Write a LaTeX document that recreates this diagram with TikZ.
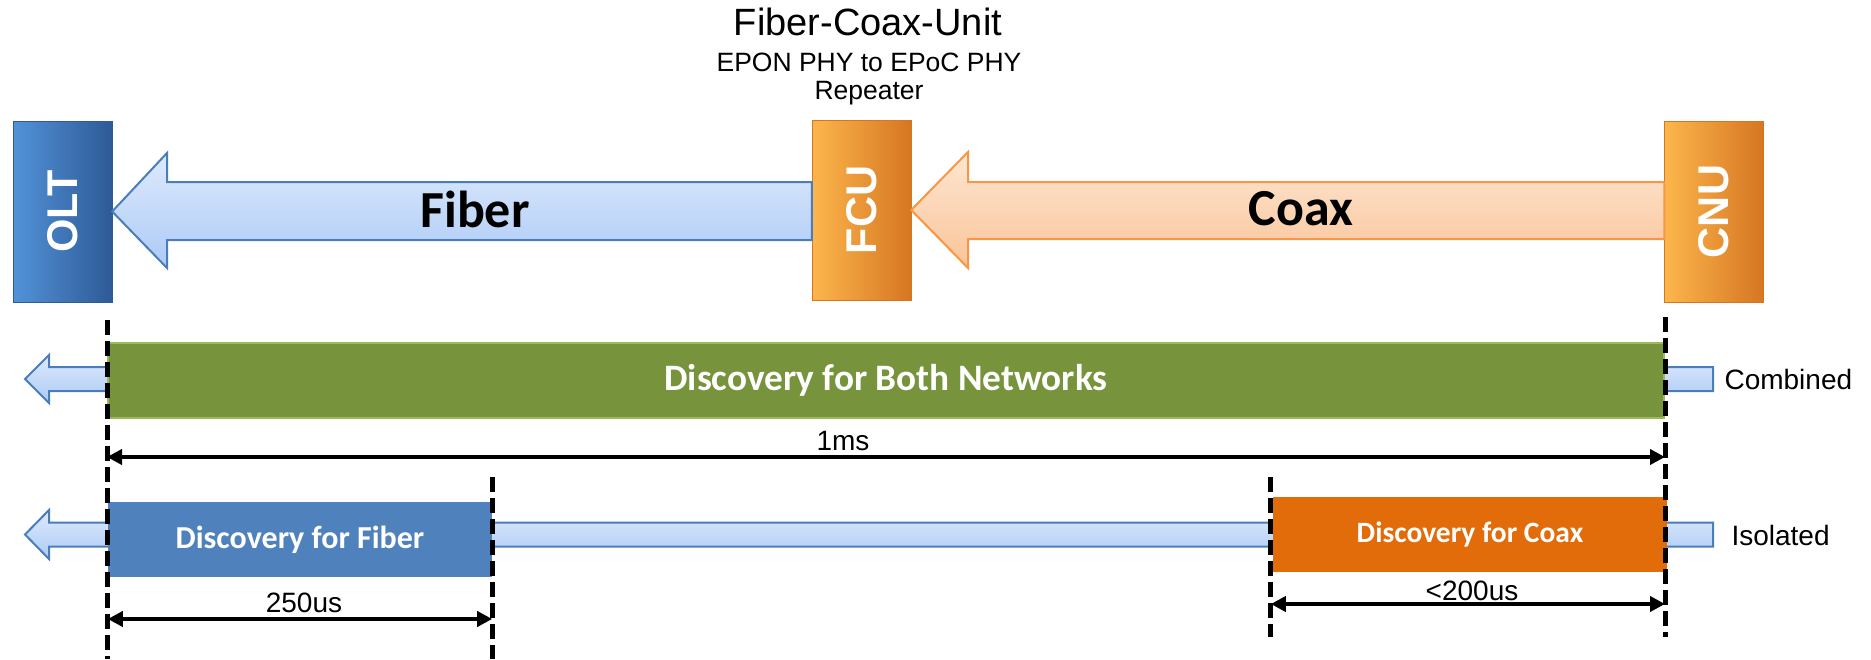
\documentclass[tikz,border=0pt]{standalone}
\usepackage{fontspec}
\setmainfont{Liberation Sans}
\newfontfamily\calibri{Carlito}
\usetikzlibrary{positioning, arrows.meta}

\definecolor{oltL}{RGB}{82,146,216}
\definecolor{oltM}{RGB}{62,126,200}
\definecolor{oltR}{RGB}{46,90,150}
\definecolor{unitL}{RGB}{252,182,76}
\definecolor{unitM}{RGB}{248,152,52}
\definecolor{unitR}{RGB}{214,118,34}
\definecolor{fibTop}{RGB}{222,234,252}
\definecolor{fibBot}{RGB}{172,202,246}
\definecolor{fibLine}{RGB}{74,126,187}
\definecolor{coxTop}{RGB}{253,230,210}
\definecolor{coxBot}{RGB}{250,196,152}
\definecolor{coxLine}{RGB}{247,150,70}
\definecolor{barGreen}{RGB}{119,147,60}
\definecolor{barGreenLine}{RGB}{155,187,89}
\definecolor{barBlue}{RGB}{79,129,189}
\definecolor{barOrange}{RGB}{227,108,10}

\begin{document}
\begin{tikzpicture}[x=1pt, y=-1pt,
    unit/.style={rectangle, inner sep=0pt, minimum width=99pt, minimum height=181pt,
                 text=white, font=\fontsize{43}{43}\selectfont\bfseries},
    oltbox/.style={unit, left color=oltL, middle color=oltM, right color=oltR, draw=oltR},
    unitbox/.style={unit, left color=unitL, middle color=unitM, right color=unitR, draw=unitR},
    fiberarrow/.style={draw=fibLine, line width=2pt, top color=fibTop, bottom color=fibBot},
    coaxarrow/.style={draw=coxLine, line width=2pt, top color=coxTop, bottom color=coxBot},
    bar/.style={rectangle, inner sep=0pt, minimum height=75pt, text=white,
                font=\calibri\bfseries},
    guide/.style={line width=5pt, dash pattern=on 15pt off 6pt},
    dim/.style={{Triangle[length=15pt, width=15pt]}-{Triangle[length=15pt, width=15pt]}, line width=4pt},
    label/.style={font=\fontsize{28}{28}\selectfont}
]
    \useasboundingbox (0,0) rectangle (1871,659);

    % Units
    \node[oltbox] (olt) at (62.5,211.5) {\rotatebox{90}{OLT}};
    \node[unitbox, minimum height=180pt] (fcu) at (861.5,210) {\rotatebox{90}{FCU}};
    \node[unitbox] (cnu) at (1714,211.5) {\rotatebox{90}{CNU}};

    % FCU caption
    \node[font=\fontsize{38}{38}\selectfont] (fcuname) at (868,22) {Fiber-Coax-Unit};
    \node[font=\fontsize{26.5}{26.5}\selectfont] (fcudesc) at (869,62) {EPON PHY to EPoC PHY};
    \node[font=\fontsize{26.5}{26.5}\selectfont] (fcurep) at (869,93) {Repeater};

    % Upstream arrows
    \filldraw[fiberarrow] (fcu.west |- 0,182) -- (167,182) -- (167,153) -- (olt.east)
        -- (167,268) -- (167,240) -- (fcu.west |- 0,240) -- cycle;
    \filldraw[coaxarrow] (cnu.west |- 0,182) -- (968,182) -- (968,152) -- (fcu.east)
        -- (968,268) -- (968,239) -- (cnu.west |- 0,239) -- cycle;
    \node[font=\calibri\bfseries\fontsize{52}{52}\selectfont] (fibertxt) at (475,209) {Fiber};
    \node[font=\calibri\bfseries\fontsize{52}{52}\selectfont] (coaxtxt) at (1301,209) {Coax};

    % Timeline arrows
    \filldraw[fiberarrow] (1713,367) -- (49,367) -- (49,355) -- (25,379) -- (49,403)
        -- (49,391) -- (1713,391) -- cycle;
    \filldraw[fiberarrow] (1713,522.5) -- (49,522.5) -- (49,510) -- (25,534.5) -- (49,559)
        -- (49,546.5) -- (1713,546.5) -- cycle;

    % Discovery windows
    \node[bar, fill=barGreen, draw=barGreenLine, line width=2pt, minimum width=1556pt,
          font=\calibri\bfseries\fontsize{37.3}{37.3}\selectfont] (both) at (886,380.5)
          {Discovery for Both Networks};
    \node[bar, fill=barBlue, minimum width=384pt,
          font=\calibri\bfseries\fontsize{32}{32}\selectfont] (fib) at (300,539.5)
          {Discovery for Fiber};
    \node[bar, fill=barOrange, minimum width=394pt,
          font=\calibri\bfseries\fontsize{29.5}{29.5}\selectfont] (cox) at (1470,534.5)
          {Discovery for Coax};

    \node[label, anchor=west] (combined) at (1721,379) {Combined};
    \node[label, anchor=west] (isolated) at (1728,535) {Isolated};

    % Guides
    \draw[guide] (both.west |- 0,320) -- (both.west |- 0,659);
    \draw[guide] (both.east |- 0,317) -- (both.east |- 0,637);
    \draw[guide] (fib.east |- 0,477) -- (fib.east |- 0,659);
    \draw[guide] ([xshift=-2pt]cox.west |- 0,477) -- ([xshift=-2pt]cox.west |- 0,637);

    % Durations
    \draw[dim] (both.west |- 0,457) -- (both.east |- 0,457);
    \node[label] (onems) at (843,441) {1ms};
    \draw[dim] (fib.west |- 0,619) -- (fib.east |- 0,619);
    \node[label] (fibtime) at (304,603) {250us};
    \draw[dim] ([xshift=-2pt]cox.west |- 0,604) -- (both.east |- 0,604);
    \node[label] (coxtime) at (1472,591) {<200us};

\end{tikzpicture}
\end{document}
